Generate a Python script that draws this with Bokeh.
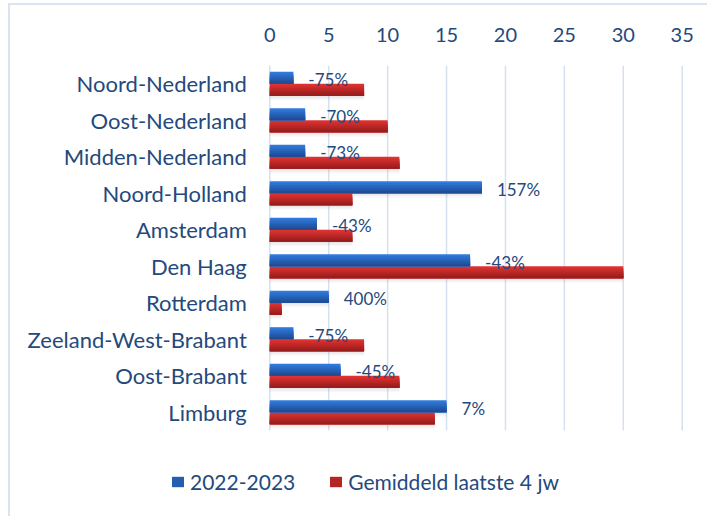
from bokeh.plotting import figure
from bokeh.models import (ColumnDataSource, Range1d, FixedTicker,
                          Legend, LegendItem, InlineStyleSheet)
from bokeh.transform import dodge
from bokeh.core.properties import value
from bokeh.embed import file_html
from bokeh.resources import INLINE

# ---- data ----
categories = ["Noord-Nederland", "Oost-Nederland", "Midden-Nederland", "Noord-Holland",
              "Amsterdam", "Den Haag", "Rotterdam", "Zeeland-West-Brabant",
              "Oost-Brabant", "Limburg"]
current = [2, 3, 3, 18, 4, 17, 5, 2, 6, 15]
average = [8, 10, 11, 7, 7, 30, 1, 8, 11, 14]
change_labels = ["-75%", "-70%", "-73%", "157%", "-43%", "-43%", "400%", "-75%", "-45%", "7%"]
series_names = ["2022-2023", "Gemiddeld laatste 4 jw"]
x_ticks = [0, 5, 10, 15, 20, 25, 30, 35]

n = len(categories)
ypos = [n - 1 - i for i in range(n)]          # first category on top
src = ColumnDataSource(dict(cat=categories, ypos=ypos, current=current,
                            average=average, label=change_labels))
grid_src = ColumnDataSource(dict(x=x_ticks))

FONT = "Lato"
TXT = "#24497c"

# ---- layout constants (pixels) ----
W, H = 707, 516
FRAME_TOP = 65
X0_PX, X35_PX = 269.3, 681.7     # screen position of 0 and 35
ROW_PX = 36.5
px_per_unit = (X35_PX - X0_PX) / (x_ticks[-1] - x_ticks[0])
x_start = x_ticks[0] - X0_PX / px_per_unit
x_end = x_ticks[-1] + (W - X35_PX) / px_per_unit
y_end = (n - 1) + 0.5
y_start = y_end - (H - FRAME_TOP) / ROW_PX

border_css = InlineStyleSheet(css="""
:host { position: relative; }
:host::after {
  content: '';
  position: absolute;
  left: 8px; top: 3px; right: 0; bottom: 0;
  border-left: 2px solid #d9e3f1;
  border-top: 2px solid #d9e3f1;
  pointer-events: none;
}
""")

p = figure(width=W, height=H, x_range=Range1d(x_start, x_end),
           y_range=Range1d(y_start, y_end), x_axis_location="above",
           y_axis_location=None, output_backend="svg", toolbar_location=None,
           min_border_left=0, min_border_right=0, min_border_top=FRAME_TOP,
           min_border_bottom=0, stylesheets=[border_css])
p.outline_line_color = None
p.background_fill_color = "white"
p.border_fill_color = "white"
p.grid.visible = False

# top value axis
p.xaxis.ticker = FixedTicker(ticks=x_ticks)
p.xaxis.axis_line_color = None
p.xaxis.major_tick_line_color = None
p.xaxis.minor_tick_line_color = None
p.xaxis.major_label_text_font = FONT
p.xaxis.major_label_text_font_size = "20px"
p.xaxis.major_label_text_color = TXT
p.xaxis.major_label_standoff = 18

# vertical gridlines over the category rows
p.segment(x0="x", x1="x", y0=-0.5, y1=y_end, source=grid_src,
          line_color="#d6e1ef", line_width=1.5)

# category labels
p.text(x=0, y="ypos", text="cat", source=src, x_offset=-23, text_align="right",
       text_baseline="middle", text_font=value(FONT), text_font_size="22px",
       text_color=TXT)

BAR_H = 0.33
N_STRIPS = 6
blue_top, blue_bot = (0x2f, 0x7a, 0xdc), (0x1f, 0x4c, 0x95)
red_top, red_bot = (0xdc, 0x33, 0x30), (0x9a, 0x1c, 0x1c)


def mix(a, b, t):
    return "#%02x%02x%02x" % tuple(int(round(a[i] + (b[i] - a[i]) * t)) for i in range(3))


# soft shadows below the bars
for al, off in [(0.07, 0.04), (0.06, 0.08), (0.05, 0.12)]:
    p.hbar(y=dodge("ypos", -BAR_H / 2 - off), right="average",
           height=BAR_H, left=0, source=src, fill_color="#7f7f7f", fill_alpha=al,
           line_color=None)
    p.hbar(y=dodge("ypos", BAR_H / 2 - off), right="current",
           height=BAR_H, left=0, source=src, fill_color="#7f7f7f", fill_alpha=al,
           line_color=None)

legend_renderers = {}
hs = BAR_H / N_STRIPS
for field, top_c, bot_c, base, name in [("average", red_top, red_bot, 0.0, series_names[1]),
                                         ("current", blue_top, blue_bot, BAR_H, series_names[0])]:
    for k in range(N_STRIPS):
        c = mix(top_c, bot_c, k / (N_STRIPS - 1))
        h = BAR_H - k * hs
        off = base - k * hs - h / 2
        r = p.hbar(y=dodge("ypos", off), right=field, left=0,
                   height=h, source=src, fill_color=c, line_color=None)
        if k == N_STRIPS // 2:
            legend_renderers[name] = r

# percentage labels
p.text(x="current", y=dodge("ypos", 0.11), text="label", source=src,
       x_offset=15, text_align="left", text_baseline="middle",
       text_font=value(FONT), text_font_size="17px", text_color=TXT)

# legend
legend = Legend(items=[LegendItem(label=series_names[0], renderers=[legend_renderers[series_names[0]]]),
                       LegendItem(label=series_names[1], renderers=[legend_renderers[series_names[1]]])],
                orientation="horizontal", location=(170, 22),
                glyph_width=15, glyph_height=13, label_standoff=5, spacing=33,
                padding=0, margin=0, border_line_color=None, background_fill_alpha=0,
                label_text_font=FONT, label_text_font_size="21px", label_text_color=TXT)
p.add_layout(legend, "center")

open("out.html", "w").write(file_html(p, INLINE))
